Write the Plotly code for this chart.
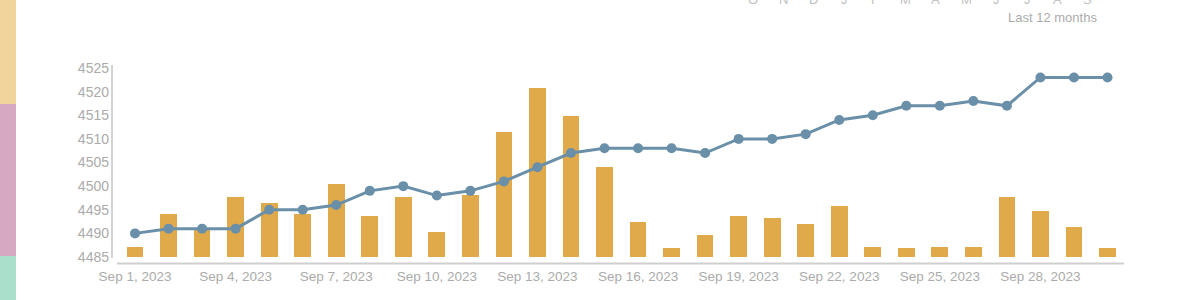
import plotly.graph_objects as go
import pandas as pd

# ---- data ----
dates = pd.date_range("2023-09-01", "2023-09-30", freq="D")
line_values = [4490, 4491, 4491, 4491, 4495, 4495, 4496, 4499, 4500, 4498,
               4499, 4501, 4504, 4507, 4508, 4508, 4508, 4507, 4510, 4510,
               4511, 4514, 4515, 4517, 4517, 4518, 4517, 4523, 4523, 4523]
bar_values = [4487.2, 4494.2, 4491.0, 4497.6, 4496.5, 4494.2, 4500.4, 4493.7, 4497.7, 4490.2,
              4498.2, 4511.5, 4520.7, 4514.8, 4504.0, 4492.5, 4486.8, 4489.6, 4493.6, 4493.2,
              4491.9, 4495.9, 4487.2, 4486.8, 4487.2, 4487.2, 4497.6, 4494.7, 4491.3, 4486.8]
y_ticks = [4485, 4490, 4495, 4500, 4505, 4510, 4515, 4520, 4525]
x_tick_dates = ["2023-09-01", "2023-09-04", "2023-09-07", "2023-09-10", "2023-09-13",
                "2023-09-16", "2023-09-19", "2023-09-22", "2023-09-25", "2023-09-28"]
x_tick_labels = ["Sep 1, 2023", "Sep 4, 2023", "Sep 7, 2023", "Sep 10, 2023", "Sep 13, 2023",
                 "Sep 16, 2023", "Sep 19, 2023", "Sep 22, 2023", "Sep 25, 2023", "Sep 28, 2023"]
months = ["O", "N", "D", "J", "F", "M", "A", "M", "J", "J", "A", "S"]
period_label = "Last 12 months"

FONT = "Liberation Sans, Arial, sans-serif"
W, H = 1200, 300
ML, MR, MT, MB = 117, 76, 68, 43
PW, PH = W - ML - MR, H - MT - MB


def px_x(p):
    return (p - ML) / PW


def px_y(p):
    return (H - MB - p) / PH


fig = go.Figure()
fig.add_trace(go.Bar(
    x=dates, y=bar_values, width=0.5 * 86400000,
    marker=dict(color="#e0a94a", line=dict(width=0)),
    hoverinfo="x+y", showlegend=False,
))
fig.add_trace(go.Scatter(
    x=dates, y=line_values, mode="lines+markers",
    line=dict(color="#6a8fa8", width=3),
    marker=dict(color="#6a8fa8", size=10),
    showlegend=False,
))

shapes = [
    # left colour strip
    dict(type="rect", xref="paper", yref="paper", x0=px_x(0), x1=px_x(16),
         y0=px_y(0), y1=px_y(104), fillcolor="#f0d49c", line=dict(width=0), layer="above"),
    dict(type="rect", xref="paper", yref="paper", x0=px_x(0), x1=px_x(16),
         y0=px_y(104), y1=px_y(256), fillcolor="#d7a9c1", line=dict(width=0), layer="above"),
    dict(type="rect", xref="paper", yref="paper", x0=px_x(0), x1=px_x(16),
         y0=px_y(256), y1=px_y(300), fillcolor="#a9dfcb", line=dict(width=0), layer="above"),
    # y axis line
    dict(type="line", xref="paper", yref="paper", x0=px_x(112), x1=px_x(112),
         y0=px_y(65), y1=px_y(258), line=dict(color="#c4c4c4", width=1.5)),
    # x axis line
    dict(type="line", xref="paper", yref="paper", x0=px_x(117), x1=px_x(1124),
         y0=px_y(263.5), y1=px_y(263.5), line=dict(color="#cfcfcf", width=2)),
]

annotations = []
for i, m in enumerate(months):
    annotations.append(dict(
        text=m, xref="paper", yref="paper", x=px_x(753 + i * 30.45), y=px_y(-1),
        xanchor="center", yanchor="middle", showarrow=False,
        font=dict(family=FONT, size=13, color="#c2c2c2"),
    ))
annotations.append(dict(
    text=period_label, xref="paper", yref="paper", x=px_x(1099), y=px_y(18),
    xanchor="right", yanchor="middle", showarrow=False,
    font=dict(family=FONT, size=13, color="#ababab"),
))

fig.update_layout(
    width=W, height=H,
    margin=dict(l=ML, r=MR, t=MT, b=MB, pad=0),
    paper_bgcolor="white", plot_bgcolor="white",
    font=dict(family=FONT, color="#ababab"),
    bargap=0,
    shapes=shapes, annotations=annotations,
    xaxis=dict(
        type="date",
        range=["2023-08-31 11:06", "2023-09-30 11:48"],
        tickvals=x_tick_dates, ticktext=x_tick_labels,
        tickfont=dict(family=FONT, size=13.5, color="#ababab"),
        showgrid=False, zeroline=False, showline=False, ticks="",
        ticklabelstandoff=9,
    ),
    yaxis=dict(
        range=[4485, 4525], tickvals=y_ticks,
        tickfont=dict(family=FONT, size=14, color="#ababab"),
        showgrid=False, zeroline=False, showline=False, ticks="",
        ticklabelstandoff=7,
    ),
)

fig.write_html("out.html")
